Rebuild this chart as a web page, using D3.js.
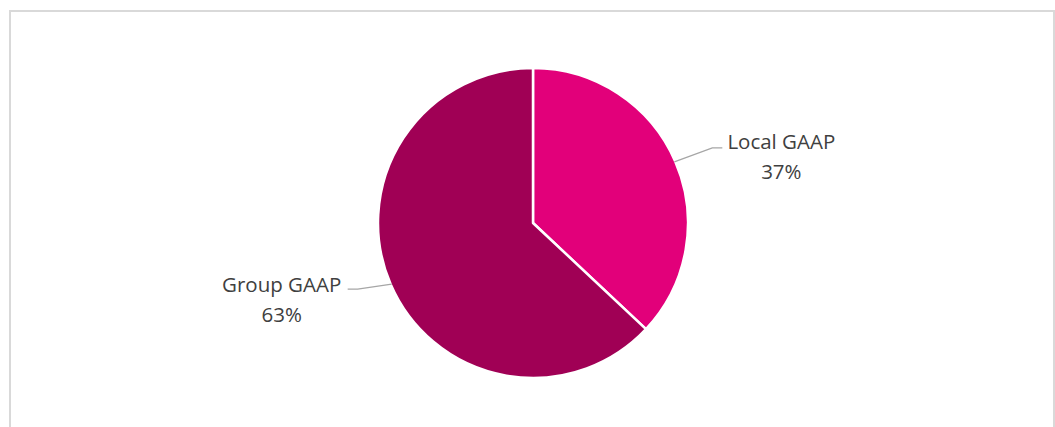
<!DOCTYPE html>
<html>
<head>
<meta charset="utf-8">
<script src="https://cdn.jsdelivr.net/npm/d3@7"></script>
<style>
  html, body { margin: 0; padding: 0; background: #fff; }
  svg { display: block; }
</style>
</head>
<body>
<svg id="chart" width="1055" height="427"></svg>
<script>
// Share of reporting basis
const categories = ["Local GAAP", "Group GAAP"];
const values = [37, 63];
const colors = ["#E2007A", "#A00055"];

const svg = d3.select("#chart");

// chart frame (runs off the right and bottom edges)
svg.append("rect")
  .attr("x", 10).attr("y", 11)
  .attr("width", 1044).attr("height", 440)
  .attr("fill", "none")
  .attr("stroke", "#d9d9d9")
  .attr("stroke-width", 2);

const cx = 533, cy = 223, r = 155;
const g = svg.append("g").attr("transform", `translate(${cx},${cy})`);

const pie = d3.pie().sort(null).value(d => d.value);
const data = pie(categories.map((c, i) => ({ name: c, value: values[i], color: colors[i] })));
const arc = d3.arc().innerRadius(0).outerRadius(r);

g.selectAll("path.slice")
  .data(data)
  .join("path")
  .attr("class", "slice")
  .attr("d", arc)
  .attr("fill", d => d.data.color)
  .attr("stroke", "#fff")
  .attr("stroke-width", 2.5)
  .attr("stroke-linejoin", "round");

// leader lines and labels
const pt = (a, rad) => [Math.sin(a) * rad, -Math.cos(a) * rad];
const font = "'Open Sans', 'Liberation Sans', sans-serif";

data.forEach(d => {
  const mid = (d.startAngle + d.endAngle) / 2;
  const right = Math.sin(mid) > 0;
  const p0 = pt(mid, r - 1);
  const p1 = [p0[0] + (right ? 38 : -34), p0[1] + (right ? -14 : 5)];
  const p2 = [p1[0] + (right ? 10 : -10), p1[1]];
  g.append("polyline")
    .attr("points", [p0, p1, p2].map(p => p.join(",")).join(" "))
    .attr("fill", "none")
    .attr("stroke", "#a6a6a6")
    .attr("stroke-width", 1.3);

  const tx = right ? p2[0] + 59 : p2[0] - 66;
  const ty = right ? p2[1] + 1 : p2[1] + 3;
  const t = g.append("text")
    .attr("text-anchor", "middle")
    .attr("font-family", font)
    .attr("font-size", 20.5)
    .attr("fill", "#404040");
  t.append("tspan").attr("x", tx).attr("y", ty).text(d.data.name);
  t.append("tspan").attr("x", tx).attr("y", ty + 30).text(d.data.value + "%");
});
</script>
</body>
</html>
